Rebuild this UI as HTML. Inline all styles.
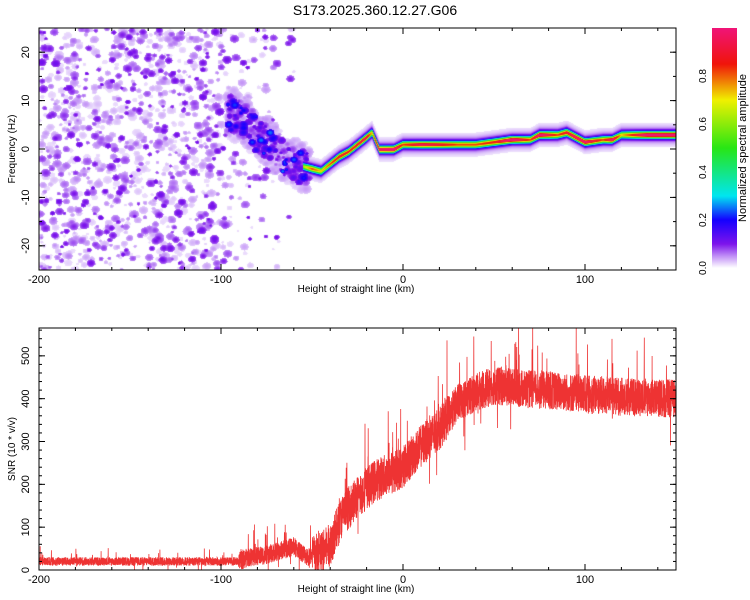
<!DOCTYPE html>
<html><head><meta charset="utf-8"><style>
body{margin:0;background:#fff;width:750px;height:600px;overflow:hidden;position:relative;font-family:"Liberation Sans",sans-serif}
#spec{position:absolute;left:39px;top:28px}
svg{position:absolute;left:0;top:0}
</style></head><body>
<canvas id="spec" width="637" height="242"></canvas>
<svg id="svg" width="750" height="600"></svg>
<script>
// ridge data (height km, frequency Hz, normalized amplitude)
const ridgeHeights=[-97,-88,-80,-70,-60,-50,-45,-40,-35,-30,-25,-20,-17,-13,-5,0,10,20,30,40,50,60,70,75,85,90,95,100,110,115,120,135,150];
const ridgeFreqs=[8,6,3,0,-3,-4,-4.5,-3,-1.5,-0.5,1,2.5,3.5,0,0,1,1,1,1,1,1.5,2,2,3,3,3.5,2.5,1.5,2,2,3,3,3];
const ridgeAmps=[0.12,0.15,0.2,0.25,0.3,0.7,0.6,0.7,0.8,0.75,0.8,0.85,0.6,0.9,0.95,0.7,0.85,0.8,0.7,0.7,0.75,0.95,0.7,0.95,0.7,0.8,0.9,0.9,0.7,0.9,0.6,0.95,0.95];
// SNR trend (height km, SNR)
const snrHeights=[-200,-90,-85,-75,-60,-52,-45,-40,-33,-25,-15,-5,0,10,20,30,40,50,60,80,100,120,150];
const snrValues=[20,20,30,35,55,30,40,60,130,170,210,230,240,290,330,390,415,430,425,420,410,405,400];
const xTicks=[-200,-100,0,100];
const fTicks=[-20,-10,0,10,20];
const snrTicks=[0,100,200,300,400,500];
const cbTicks=[0,0.2,0.4,0.6,0.8];

const X0=39,X1=676,XMIN=-200,XMAX=150;
const xs=v=>X0+(v-XMIN)/(XMAX-XMIN)*(X1-X0);
const T0=28,T1=270,FMIN=-25,FMAX=25;
const fy=f=>T1-(f-FMIN)/(FMAX-FMIN)*(T1-T0);
const B0=328,B1=570,SMAX=565;
const sy=s=>B1-s/SMAX*(B1-B0);

function interp(xa,ya,x){if(x<=xa[0])return ya[0];for(let i=1;i<xa.length;i++){if(x<=xa[i]){const t=(x-xa[i-1])/(xa[i]-xa[i-1]);return ya[i-1]+t*(ya[i]-ya[i-1]);}}return ya[ya.length-1];}
const cmapStops=[[0,[255,255,255]],[0.02,[232,215,252]],[0.1,[125,20,235]],[0.2,[20,0,255]],[0.3,[0,230,240]],[0.5,[40,230,20]],[0.7,[240,240,0]],[0.85,[240,20,10]],[1,[240,20,120]]];
function cmap(v){v=Math.max(0,Math.min(1,v));for(let i=1;i<cmapStops.length;i++){if(v<=cmapStops[i][0]){const a=cmapStops[i-1],b=cmapStops[i],t=(v-a[0])/(b[0]-a[0]);return a[1].map((c,k)=>Math.round(c+t*(b[1][k]-c)));}}return cmapStops[cmapStops.length-1][1];}

// deterministic texture generator
let seed=12345;function rnd(){seed=(seed*1103515245+12345)&0x7fffffff;return seed/0x7fffffff;}

const cv=document.getElementById('spec'),ctx=cv.getContext('2d');
const W=cv.width,H=cv.height;
const val=new Float32Array(W*H);
function blob(px,py,r,a){
  for(let y=Math.floor(py-r);y<=py+r;y++)for(let x=Math.floor(px-r*1.2);x<=px+r*1.2;x++){
    if(x<0||y<0||x>=W||y>=H)continue;const d=((x-px)/(r*1.2))**2+((y-py)/r)**2;if(d<=1){const v=a*(1-d*0.4);if(v>val[y*W+x])val[y*W+x]=v;}}
}
// noise blobs
for(let i=0;i<4200;i++){
  const h=XMIN+rnd()*(XMAX-XMIN);
  let dens=h<-100?1:h<-55?Math.max(0,(-55-h)/45)*0.4:0;
  if(rnd()>dens)continue;
  const q=rnd();
  const px=xs(h)-X0,py=rnd()*H,r=1.5+rnd()*2.5,a=0.018+q*q*0.1;
  blob(px,py,r,a);
}
// halo around early ridge
for(let i=0;i<300;i++){
  const h=-97+rnd()*45;const f=interp(ridgeHeights,ridgeFreqs,h)+(rnd()-0.5)*10;
  blob(xs(h)-X0,fy(f)-T0,2+rnd()*3,0.02+rnd()*0.03);
}
// scattered ridge blobs for the noisy start
for(let i=0;i<260;i++){
  const h=-97+rnd()*45;const f=interp(ridgeHeights,ridgeFreqs,h)+(rnd()-0.5)*7;
  blob(xs(h)-X0,fy(f)-T0,1.5+rnd()*2.5,0.05+rnd()*rnd()*0.22);
}
// ridge
for(let x=0;x<W;x++){
  const h=XMIN+(x+0.5)/(X1-X0)*(XMAX-XMIN);
  if(h<-55)continue;
  const f=interp(ridgeHeights,ridgeFreqs,h),a=interp(ridgeHeights,ridgeAmps,h);
  const cy=fy(f)-T0;
  const sp=3.0;
  for(let y=Math.max(0,Math.floor(cy-25));y<Math.min(H,cy+25);y++){
    const d=(y-cy)/sp;const v=a*Math.exp(-d*d)+0.1*Math.exp(-d*d*0.25)+0.03*Math.exp(-d*d*0.05);
    if(v>val[y*W+x])val[y*W+x]=v;}
}
const img=ctx.createImageData(W,H);
for(let i=0;i<W*H;i++){const c=val[i]<0.015?[255,255,255]:cmap(val[i]);img.data[i*4]=c[0];img.data[i*4+1]=c[1];img.data[i*4+2]=c[2];img.data[i*4+3]=255;}
ctx.putImageData(img,0,0);

const NS='http://www.w3.org/2000/svg',svg=document.getElementById('svg');
function el(tag,attrs,parent){const e=document.createElementNS(NS,tag);for(const k in attrs)e.setAttribute(k,attrs[k]);(parent||svg).appendChild(e);return e;}
function txt(s,x,y,attrs,name){const t=el('text',Object.assign({x:x,y:y,'font-size':11,'text-anchor':'middle','font-family':'Liberation Sans, sans-serif',fill:'#000'},attrs||{}));t.textContent=s;

return t;}

const title=txt('S173.2025.360.12.27.G06',375,15,{'font-size':14},'chart-title');

// SNR line
const pts=[];
for(let i=0;i<=6000;i++){
  const h=XMIN+i/6000*(XMAX-XMIN);let s=interp(snrHeights,snrValues,h);
  const amp=h<-90?10:h<-50?22:h<25?50:45;
  s+=(rnd()-0.5)*2*amp;
  if(rnd()<0.03)s+=(rnd()<0.75?1:-1)*rnd()*amp*2.8;
  s=Math.max(0,Math.min(SMAX,s));pts.push(xs(h).toFixed(1)+','+sy(s).toFixed(1));
}
const line=el('polyline',{points:pts.join(' '),fill:'none',stroke:'#ee3333','stroke-width':0.8});



function frame(top,bot,yTicks,yf,minorStep,yMin,yMax,name,ylab,xlabName){
  const r=el('rect',{x:X0,y:top,width:X1-X0,height:bot-top,fill:'none',stroke:'#000','stroke-width':1});
  
  
  for(let v=XMIN;v<=XMAX;v+=20){const x=xs(v),L=v%100===0?6:3;
    el('line',{x1:x,y1:bot,x2:x,y2:bot-L,stroke:'#000'});el('line',{x1:x,y1:top,x2:x,y2:top+L,stroke:'#000'});}
  xTicks.forEach(v=>txt(String(v),xs(v),bot+13,{},name+'-x-tick-label'));
  for(let v=yMin;v<=yMax;v+=minorStep){const y=yf(v);el('line',{x1:X0,y1:y,x2:X0+3,y2:y,stroke:'#000'});el('line',{x1:X1,y1:y,x2:X1-3,y2:y,stroke:'#000'});}
  yTicks.forEach(v=>{const y=yf(v);el('line',{x1:X0,y1:y,x2:X0+6,y2:y,stroke:'#000'});el('line',{x1:X1,y1:y,x2:X1-6,y2:y,stroke:'#000'});
    txt(String(v),29,y,{transform:'rotate(-90 29 '+y+')'},name+'-y-tick-label');});
  txt('Height of straight line (km)',356,bot+22,{'font-size':10},xlabName);
  const my=(top+bot)/2;txt(ylab,15,my,{'font-size':10,transform:'rotate(-90 15 '+my+')'},name+'-y-axis-title');
}
frame(T0,T1,fTicks,fy,5,-25,25,'spectrogram','Frequency (Hz)','spectrogram-x-axis-title');
frame(B0,B1,snrTicks,sy,20,0,560,'snr','SNR (10 * v/v)','snr-x-axis-title');

// colorbar
const defs=el('defs',{});const g=el('linearGradient',{id:'cb',x1:0,y1:1,x2:0,y2:0},defs);
for(let i=0;i<=20;i++){const c=cmap(i/20);el('stop',{offset:i/20,'stop-color':'rgb('+c.join(',')+')'},g);}
const cb=el('rect',{x:712,y:28,width:25,height:240,fill:'url(#cb)'});


cbTicks.forEach(v=>{const y=268-v*240;txt(v.toFixed(1),706,y,{transform:'rotate(-90 706 '+y+')','font-size':10},'colorbar-tick-label');});
txt('Normalized spectral amplitude',746,148,{'font-size':11,transform:'rotate(-90 746 148)'},'colorbar-title');
</script>
</body></html>
